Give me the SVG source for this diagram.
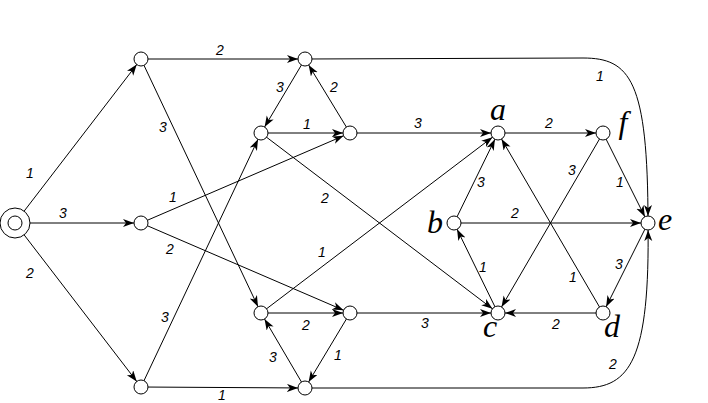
<svg xmlns="http://www.w3.org/2000/svg" width="708" height="403" viewBox="0 0 708 403">
<style>
.e{stroke:#000;stroke-width:1;fill:none;marker-end:url(#arr)}
.n{fill:#fff;stroke:#000;stroke-width:1}
.w{font-family:"Liberation Sans",Arial,sans-serif;font-style:italic;font-size:14px;text-anchor:middle;dominant-baseline:central;fill:#000}
.l{font-family:"Liberation Serif","Times New Roman",serif;font-style:italic;font-size:32px;text-anchor:middle;fill:#000}
</style>
<defs>
<marker id="arr" markerUnits="userSpaceOnUse" markerWidth="20" markerHeight="10" refX="18" refY="4" orient="auto">
<path d="M0,0 L11,4 L0,8 L3,4 z" fill="#000"/>
</marker>
</defs>
<rect width="708" height="403" fill="#fff"/>
<g id="connectors">
<line class="e" x1="15" y1="223" x2="141" y2="59"/>
<line class="e" x1="15" y1="223" x2="141" y2="223"/>
<line class="e" x1="15" y1="223" x2="141" y2="387"/>
<line class="e" x1="141" y1="59" x2="305" y2="59"/>
<line class="e" x1="141" y1="59" x2="261" y2="313"/>
<line class="e" x1="141" y1="223" x2="350" y2="133"/>
<line class="e" x1="141" y1="223" x2="350" y2="313"/>
<line class="e" x1="141" y1="387" x2="261" y2="133"/>
<line class="e" x1="141" y1="387" x2="305" y2="388"/>
<line class="e" x1="305" y1="59" x2="261" y2="133"/>
<line class="e" x1="350" y1="133" x2="305" y2="59"/>
<line class="e" x1="261" y1="133" x2="350" y2="133"/>
<line class="e" x1="261" y1="133" x2="498" y2="313"/>
<line class="e" x1="350" y1="133" x2="498" y2="133"/>
<path class="e" d="M305,59 L583,58 C630,58 648,80 648,223"/>
<line class="e" x1="261" y1="313" x2="498" y2="133"/>
<line class="e" x1="261" y1="313" x2="350" y2="313"/>
<line class="e" x1="350" y1="313" x2="498" y2="313"/>
<line class="e" x1="350" y1="313" x2="305" y2="388"/>
<line class="e" x1="305" y1="388" x2="261" y2="313"/>
<path class="e" d="M305,388 L583,388 C630,388 650,360 648,223"/>
<line class="e" x1="498" y1="133" x2="603" y2="133"/>
<line class="e" x1="454" y1="223" x2="498" y2="133"/>
<line class="e" x1="454" y1="223" x2="648" y2="223"/>
<line class="e" x1="498" y1="313" x2="454" y2="223"/>
<line class="e" x1="603" y1="313" x2="498" y2="133"/>
<line class="e" x1="603" y1="133" x2="498" y2="313"/>
<line class="e" x1="603" y1="133" x2="648" y2="223"/>
<line class="e" x1="648" y1="223" x2="603" y2="313"/>
<line class="e" x1="603" y1="313" x2="498" y2="313"/>
</g>
<g id="weights">
<text class="w" x="30" y="173">1</text>
<text class="w" x="63" y="213">3</text>
<text class="w" x="30" y="273">2</text>
<text class="w" x="220" y="50">2</text>
<text class="w" x="163" y="127">3</text>
<text class="w" x="280" y="87">3</text>
<text class="w" x="334" y="87">2</text>
<text class="w" x="307" y="124">1</text>
<text class="w" x="173" y="197">1</text>
<text class="w" x="325" y="198">2</text>
<text class="w" x="170" y="249">2</text>
<text class="w" x="322" y="252">1</text>
<text class="w" x="165" y="317">3</text>
<text class="w" x="306" y="325">2</text>
<text class="w" x="273" y="357">3</text>
<text class="w" x="338" y="355">1</text>
<text class="w" x="222" y="395">1</text>
<text class="w" x="418" y="123">3</text>
<text class="w" x="549" y="123">2</text>
<text class="w" x="600" y="76">1</text>
<text class="w" x="481" y="182">3</text>
<text class="w" x="572" y="170">3</text>
<text class="w" x="620" y="182">1</text>
<text class="w" x="515" y="213">2</text>
<text class="w" x="483" y="267">1</text>
<text class="w" x="573" y="277">1</text>
<text class="w" x="619" y="264">3</text>
<text class="w" x="425" y="323">3</text>
<text class="w" x="556" y="324">2</text>
<text class="w" x="613" y="364">2</text>
</g>
<g id="node-s"><circle class="n" cx="15" cy="223" r="15"/><circle class="n" cx="15" cy="223" r="7"/></g>
<g id="node-n1"><circle class="n" cx="141" cy="59" r="7"/></g>
<g id="node-n2"><circle class="n" cx="141" cy="223" r="7"/></g>
<g id="node-n3"><circle class="n" cx="141" cy="387" r="7"/></g>
<g id="node-tt"><circle class="n" cx="305" cy="59" r="7"/></g>
<g id="node-tl"><circle class="n" cx="261" cy="133" r="7"/></g>
<g id="node-tr"><circle class="n" cx="350" cy="133" r="7"/></g>
<g id="node-bl"><circle class="n" cx="261" cy="313" r="7"/></g>
<g id="node-br"><circle class="n" cx="350" cy="313" r="7"/></g>
<g id="node-bb"><circle class="n" cx="305" cy="388" r="7"/></g>
<g id="node-a"><circle class="n" cx="498" cy="133" r="7"/><text class="l" x="498" y="120">a</text></g>
<g id="node-f"><circle class="n" cx="603" cy="133" r="7"/><text class="l" x="623" y="133">f</text></g>
<g id="node-e"><circle class="n" cx="648" cy="223" r="7"/><text class="l" x="665" y="230">e</text></g>
<g id="node-b"><circle class="n" cx="454" cy="223" r="7"/><text class="l" x="435" y="233">b</text></g>
<g id="node-c"><circle class="n" cx="498" cy="313" r="7"/><text class="l" x="490" y="337">c</text></g>
<g id="node-d"><circle class="n" cx="603" cy="313" r="7"/><text class="l" x="612" y="337">d</text></g>
</svg>
